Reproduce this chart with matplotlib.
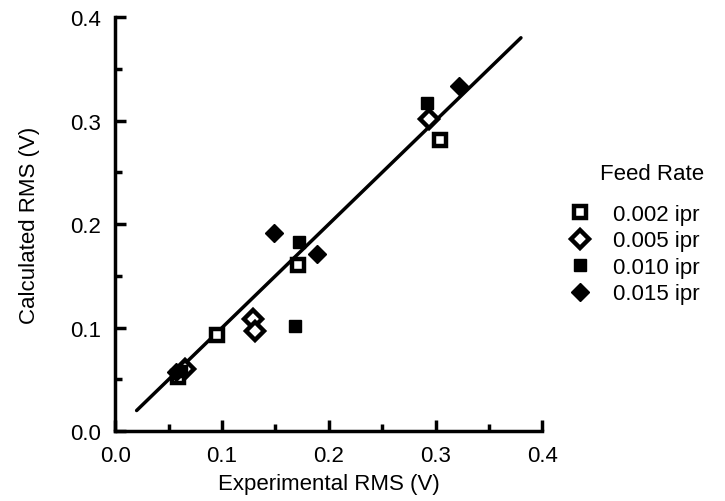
import matplotlib
matplotlib.use("Agg")
import matplotlib.pyplot as plt
from matplotlib.ticker import MultipleLocator

plt.rcParams['font.family'] = ['Liberation Sans', 'DejaVu Sans']

# data (experimental, calculated RMS in volts)
x_002 = [0.059, 0.095, 0.171, 0.304]
y_002 = [0.052, 0.093, 0.161, 0.281]
x_005 = [0.065, 0.129, 0.131, 0.294]
y_005 = [0.060, 0.108, 0.097, 0.302]
x_010 = [0.062, 0.168, 0.172, 0.292]
y_010 = [0.058, 0.102, 0.183, 0.317]
x_015 = [0.057, 0.149, 0.189, 0.322]
y_015 = [0.057, 0.191, 0.171, 0.333]
fit_x = [0.02, 0.38]
fit_y = [0.02, 0.38]

fs = 16

fig = plt.figure(figsize=(7.25, 5.02), dpi=100)
ax = fig.add_axes([0.159, 0.139, 0.589, 0.825])

ax.plot(fit_x, fit_y, color='black', linewidth=2.5, solid_capstyle='round', zorder=2)

ms = 9
ax.plot(x_002, y_002, 's', ms=ms, mfc='white', mec='black', mew=3.2, label='0.002 ipr', zorder=3)
ax.plot(x_005, y_005, 'D', ms=ms, mfc='white', mec='black', mew=3.2, label='0.005 ipr', zorder=3)
ax.plot(x_010, y_010, 's', ms=ms, mfc='black', mec='black', label='0.010 ipr', zorder=3)
ax.plot(x_015, y_015, 'D', ms=ms, mfc='black', mec='black', label='0.015 ipr', zorder=3)

ax.set_xlim(0, 0.4)
ax.set_ylim(0, 0.4)
ax.xaxis.set_major_locator(MultipleLocator(0.1))
ax.yaxis.set_major_locator(MultipleLocator(0.1))
ax.xaxis.set_minor_locator(MultipleLocator(0.05))
ax.yaxis.set_minor_locator(MultipleLocator(0.05))
ax.xaxis.set_major_formatter(plt.FormatStrFormatter('%.1f'))
ax.yaxis.set_major_formatter(plt.FormatStrFormatter('%.1f'))

for s in ['top', 'right']:
    ax.spines[s].set_visible(False)
for s in ['left', 'bottom']:
    ax.spines[s].set_linewidth(2.5)

ax.tick_params(which='major', direction='in', length=8, width=2.5, labelsize=fs, pad=10)
ax.tick_params(which='minor', direction='in', length=5, width=2.5)

ax.set_xlabel('Experimental RMS (V)', fontsize=fs, labelpad=5)
ax.set_ylabel('Calculated RMS (V)', fontsize=fs, labelpad=22)

# legend title drawn separately, it sits higher above the entries than a legend title would
fig.text(0.899, 0.653, 'Feed Rate', fontsize=fs, ha='center', va='center')
fig.legend(loc='upper left', bbox_to_anchor=(0.757, 0.632), frameon=False,
           fontsize=fs, handletextpad=1.0, labelspacing=0.25, handlelength=1.0)

fig.savefig('out.png', dpi=100)
